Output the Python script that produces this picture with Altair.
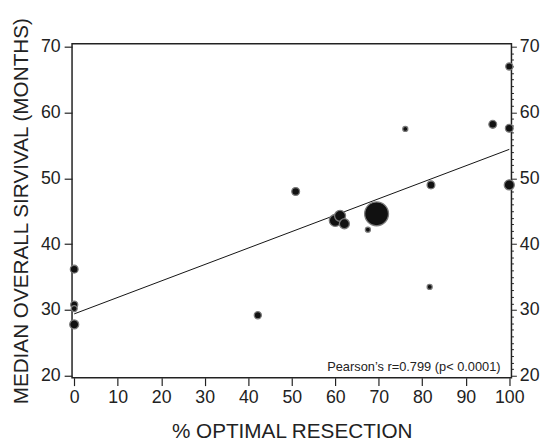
import altair as alt
import pandas as pd

# Data
resection = [0, 0, 0, 0, 42.2, 50.9, 60.0, 61.1, 62.1, 67.5, 69.5, 76.1, 81.7, 82.0, 96.2, 100, 100, 100]
survival = [36.2, 30.8, 30.2, 27.8, 29.2, 48.0, 43.6, 44.3, 43.1, 42.2, 44.6, 57.5, 33.5, 49.0, 58.2, 67.0, 57.6, 49.0]
patients = [12, 10, 7, 16, 10, 12, 28, 24, 20, 5, 113, 5, 5, 12, 12, 10, 12, 20]

fit_x = [0, 100]
fit_y = [29.4, 54.4]

note_text = ["Pearson\u2019s r=0.799 (p< 0.0001)"]
note_x = [98.0]
note_y = [20.75]

df = pd.DataFrame({"resection": resection, "survival": survival, "n": patients})
fit = pd.DataFrame({"resection": fit_x, "survival": fit_y})
note = pd.DataFrame({"resection": note_x, "survival": note_y, "label": note_text})

FONT = "Liberation Sans"
INK = "#222222"

xscale = alt.Scale(domain=[-0.5, 100.5], nice=False, zero=False)
yscale = alt.Scale(domain=[19.7, 70.45], nice=False, zero=False)

xaxis = alt.Axis(
    values=list(range(0, 101, 10)), title="% OPTIMAL RESECTION", grid=False,
    domain=False, tickSize=8, tickColor=INK, tickWidth=1.2, labelPadding=3,
    labelFontSize=18, labelColor=INK, labelFont=FONT, titleFont=FONT,
    titleFontSize=21, titleFontWeight="normal", titleColor=INK, titlePadding=15,
)
xenc = alt.X("resection:Q", scale=xscale, axis=xaxis)

left_axis = alt.Axis(
    orient="left", values=list(range(20, 71, 10)), title="MEDIAN OVERALL SIRVIVAL (MONTHS)",
    grid=False, domain=False, tickSize=8, tickColor=INK, tickWidth=1.2, labelPadding=4,
    labelFontSize=18, labelColor=INK, labelFont=FONT, titleFont=FONT,
    titleFontSize=21, titleFontWeight="normal", titleColor=INK, titlePadding=9,
)

right_axis = alt.Axis(
    orient="right", values=list(range(20, 71, 1)), title=None, grid=False, domain=False,
    labelExpr="datum.value % 10 === 0 ? datum.label : ''",
    tickSize={"condition": {"test": "datum.value % 10 === 0", "value": 5}, "value": 2},
    tickColor=INK, tickWidth=1, labelPadding=3,
    labelFontSize=18, labelColor=INK, labelFont=FONT,
)

points = alt.Chart(df).mark_circle(
    fill="#111111", stroke="#7a7a7a", strokeWidth=1.3, opacity=1
).encode(
    x=xenc,
    y=alt.Y("survival:Q", scale=yscale, axis=left_axis),
    size=alt.Size("n:Q", scale=alt.Scale(domain=[0, 100], range=[0, 520], zero=True), legend=None),
)

line = alt.Chart(fit).mark_line(color="#111111", strokeWidth=1).encode(
    x=xenc,
    y=alt.Y("survival:Q", scale=yscale, axis=right_axis),
)

text = alt.Chart(note).mark_text(
    align="right", baseline="alphabetic", font=FONT, fontSize=13, color=INK
).encode(
    x=xenc,
    y=alt.Y("survival:Q", scale=yscale, axis=None),
    text="label:N",
)

chart = alt.layer(line, points, text).resolve_axis(y="independent").properties(
    width=446, height=339,
    autosize=alt.AutoSizeParams(type="none"),
    padding={"left": 65, "top": 33, "right": 31, "bottom": 64},
    background="white",
).configure_view(stroke="#222222", strokeWidth=1.5)

chart.save("out.html", embed_options={"renderer": "svg", "actions": False})
